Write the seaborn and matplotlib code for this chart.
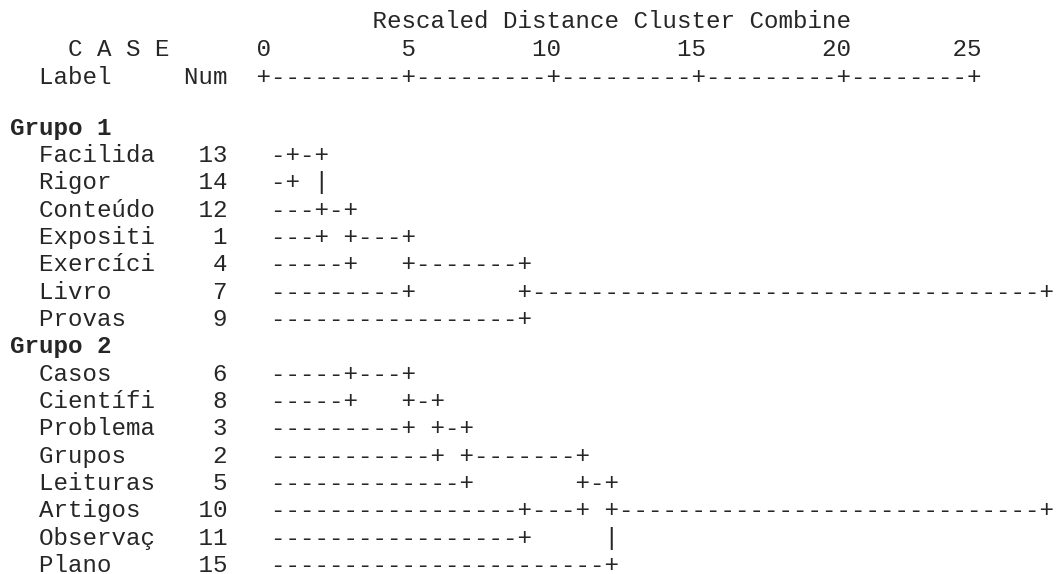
import matplotlib
matplotlib.use("Agg")
import matplotlib.pyplot as plt
import seaborn as sns

# header texts (SPSS style text output)
title_line = "Rescaled Distance Cluster Combine"
case_line = "    C A S E      0         5        10        15        20       25"
axis_line = "  Label     Num  +---------+---------+---------+---------+--------+"

# cases, in dendrogram order
group_names = ["Grupo 1", "Grupo 2"]

g1_labels = ["Facilida", "Rigor", "Conteúdo", "Expositi", "Exercíci", "Livro", "Provas"]
g1_nums = [13, 14, 12, 1, 4, 7, 9]
# merges: (row a, row b, rescaled distance, row the joined cluster continues on)
g1_merges = [(0, 1, 1, 0), (2, 3, 2, 2), (0, 2, 2, 2), (2, 4, 3, 3), (3, 5, 5, 4), (4, 6, 9, 5)]

g2_labels = ["Casos", "Científi", "Problema", "Grupos", "Leituras", "Artigos", "Observaç", "Plano"]
g2_nums = [6, 8, 3, 2, 5, 10, 11, 15]
g2_merges = [(0, 1, 3, 0), (0, 2, 5, 1), (1, 3, 6, 2), (2, 4, 7, 3), (5, 6, 9, 5), (3, 5, 11, 4), (4, 7, 12, 5)]

root_level = 27


def col(d):
    # one rescaled unit = two characters, distance 0 sits under the first "+"
    return int(17 + 2 * d)


def tree_rows(n, merges):
    start = 18
    end = col(root_level)
    grid = [[" "] * (end + 1) for _ in range(n)]
    for r in range(n):
        c = next(col(d) for a, b, d, o in merges if r in (a, b))
        for k in range(start, c):
            grid[r][k] = "-"
        grid[r][c] = "+"
    for i, (a, b, d, o) in enumerate(merges):
        c = col(d)
        for r in range(a, b + 1):
            if r in (a, b, o):
                grid[r][c] = "+"
            elif grid[r][c] == " ":
                grid[r][c] = "|"
        later = [col(d2) for a2, b2, d2, o2 in merges[i + 1:] if o in (a2, b2)]
        stop = later[0] if later else end
        for k in range(c + 1, stop):
            grid[o][k] = "-"
        grid[o][stop] = "+"
    return ["".join(row[start:]).rstrip() for row in grid]


sns.set_theme(style="white")
plt.rcParams["font.family"] = ["Liberation Mono", "DejaVu Sans Mono"]

W, H = 1056, 574
pitch = 14.45     # px per character
step = 27.33      # px per text line
x0, y0 = 10, 128  # pixel position of column 0 / first group line

fig = plt.figure(figsize=(W / 100, H / 100), dpi=100)
ax = fig.add_axes([0, 0, 1, 1])
ax.set_xlim(-x0 / pitch, (W - x0) / pitch)
ax.set_ylim((H - y0) / step, -y0 / step)
ax.axis("off")

fs = pitch / 0.6 * 72 / 100
base = 0.25  # baseline below the line centre

ax.text(0, -3.915 + base, " " * 25 + title_line, fontsize=fs, va="baseline", ha="left")
ax.text(0, -2.89 + base, case_line, fontsize=fs, va="baseline", ha="left")
ax.text(0, -1.866 + base, axis_line, fontsize=fs, va="baseline", ha="left")

row = 0
for name, labels, nums, merges in [(group_names[0], g1_labels, g1_nums, g1_merges),
                                   (group_names[1], g2_labels, g2_nums, g2_merges)]:
    ax.text(0, row + base, name, fontsize=fs, fontweight="bold", va="baseline", ha="left")
    row += 1
    trees = tree_rows(len(labels), merges)
    for lab, num, tr in zip(labels, nums, trees):
        prefix = ("  " + lab.ljust(8) + str(num).rjust(5)).ljust(18)
        ax.text(0, row + base, prefix + tr, fontsize=fs, va="baseline", ha="left")
        row += 1

fig.savefig("out.png", dpi=100, facecolor="white")
